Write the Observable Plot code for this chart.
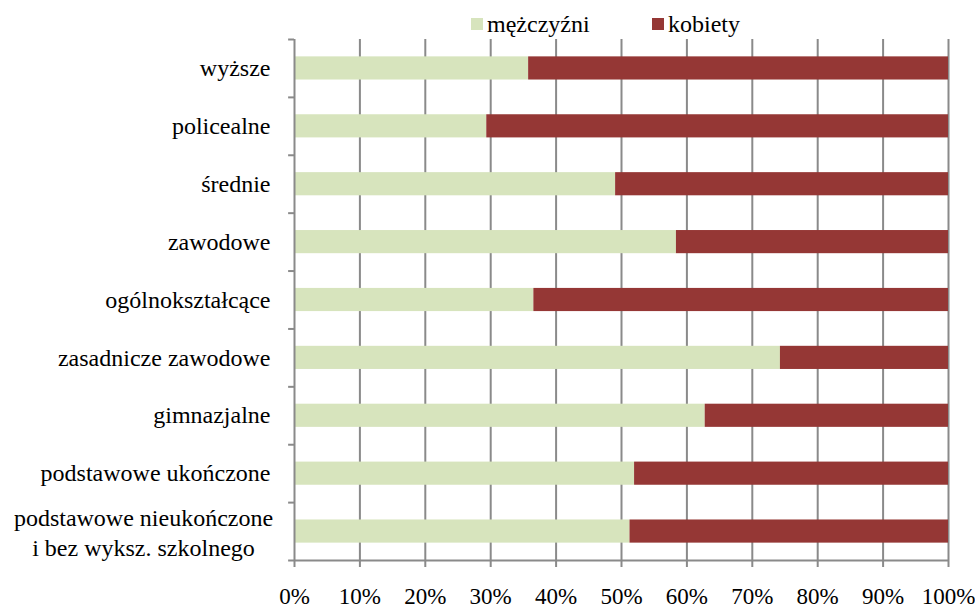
<!DOCTYPE html>
<html>
<head>
<meta charset="utf-8">
<script src="https://cdn.jsdelivr.net/npm/d3@7"></script>
<script src="https://cdn.jsdelivr.net/npm/@observablehq/plot@0.6"></script>
<style>
  html, body { margin: 0; padding: 0; background: #fff; }
  #wrap { position: relative; width: 975px; height: 608px; font-family: "Liberation Serif", "Times New Roman", serif; }
  #legend { position: absolute; top: 0; left: 0; width: 975px; height: 40px; }
  .item { position: absolute; top: 9px; font-size: 24px; line-height: 30px; color: #000; white-space: nowrap; font-family: "Liberation Serif", "Times New Roman", serif; }
  .sw { position: absolute; top: 18px; width: 12px; height: 12px; }
</style>
</head>
<body>
<div id="wrap"><div id="legend"></div></div>
<script>
const categories = [
  "wyższe",
  "policealne",
  "średnie",
  "zawodowe",
  "ogólnokształcące",
  "zasadnicze zawodowe",
  "gimnazjalne",
  "podstawowe ukończone",
  "podstawowe nieukończone\ni bez wyksz. szkolnego"
];
const seriesNames = ["mężczyźni", "kobiety"];
const seriesColors = ["#D7E4BD", "#953735"];
const menShare = [35.8, 29.4, 49.1, 58.4, 36.6, 74.3, 62.8, 52.0, 51.3];
const womenShare = menShare.map(v => 100 - v);
const xTicks = [0, 10, 20, 30, 40, 50, 60, 70, 80, 90, 100];

const rows = [];
categories.forEach((c, i) => {
  rows.push({cat: c, series: seriesNames[0], value: menShare[i] / 100});
  rows.push({cat: c, series: seriesNames[1], value: womenShare[i] / 100});
});

const FONT = "'Liberation Serif', 'Times New Roman', serif";
const W = 975, H = 608, mT = 39, mB = 48, mL = 294, mR = 27;
const step = (H - mT - mB) / categories.length;
const lastCat = categories[categories.length - 1];
const singleLine = categories.filter(c => !c.includes("\n"));
const multiLine = categories.filter(c => c.includes("\n"));

const chart = Plot.plot({
  width: W,
  height: H,
  marginTop: mT,
  marginBottom: mB,
  marginLeft: mL,
  marginRight: mR,
  style: {fontFamily: FONT, fontSize: "24px", color: "#000", background: "#fff", overflow: "visible"},
  x: {domain: [0, 1], axis: null},
  y: {domain: categories, paddingInner: 0.6, paddingOuter: 0.3, round: false, axis: null},
  color: {domain: seriesNames, range: seriesColors},
  marks: [
    Plot.ruleX(xTicks.filter(t => t > 0).map(t => t / 100), {stroke: "#8a8a8a", strokeWidth: 2}),
    Plot.barX(rows, {y: "cat", x: "value", fill: "series"}),
    Plot.ruleX([0], {stroke: "#8a8a8a", strokeWidth: 2}),
    Plot.ruleY(categories, {y: d => d, x1: -0.009, x2: 0, dy: -step / 2, stroke: "#8a8a8a", strokeWidth: 2}),
    Plot.ruleY([lastCat], {y: d => d, x1: -0.009, x2: 1, dy: step / 2, stroke: "#8a8a8a", strokeWidth: 2}),
    Plot.axisX({ticks: xTicks.map(t => t / 100), tickFormat: d => Math.round(d * 100) + "%", label: null, tickSize: 7, tickPadding: 20, stroke: "#8a8a8a", strokeWidth: 2, fontSize: 23, fill: "#000", fontFamily: FONT}),
    Plot.text(singleLine, {y: d => d, x: 0, text: d => d, textAnchor: "end", dx: -24, fontSize: 24, fill: "#000", fontFamily: FONT}),
    Plot.text(multiLine, {y: d => d, x: 0, text: d => d, textAnchor: "middle", dx: -151, lineHeight: 1.22, fontSize: 24, fill: "#000", fontFamily: FONT})
  ]
});
const wrap = document.getElementById("wrap");
wrap.appendChild(chart);
chart.style.position = "absolute";
chart.style.left = "0";
chart.style.top = "0";

const legend = document.getElementById("legend");
const legendX = [471, 652];
seriesNames.forEach((n, i) => {
  const sw = document.createElement("div");
  sw.className = "sw";
  sw.style.left = legendX[i] + "px";
  sw.style.background = seriesColors[i];
  legend.appendChild(sw);
  const t = document.createElement("div");
  t.className = "item";
  t.style.left = (legendX[i] + 16) + "px";
  t.textContent = n;
  legend.appendChild(t);
});
legend.style.zIndex = 2;
</script>
</body>
</html>
